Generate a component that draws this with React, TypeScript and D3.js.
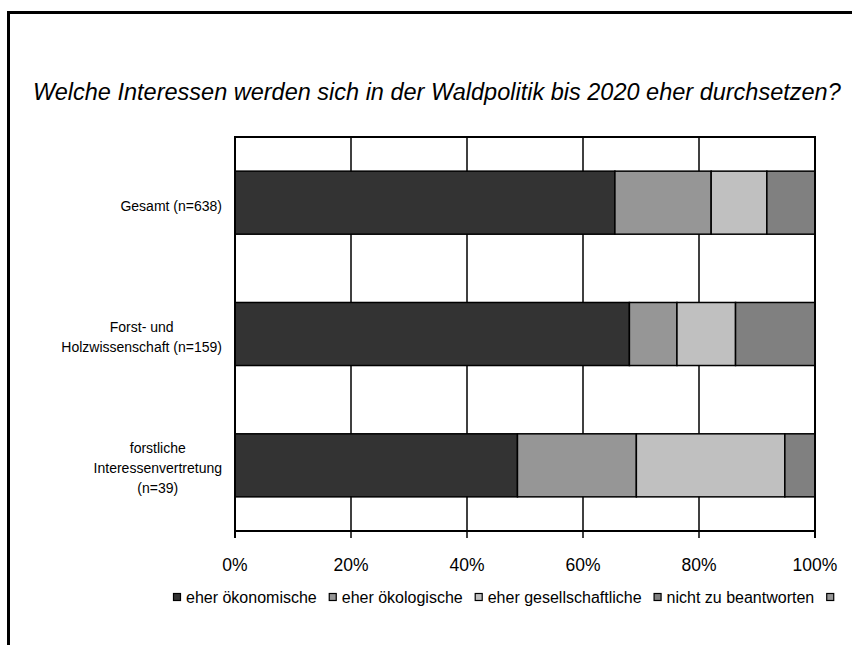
import React from "react";
import * as d3 from "d3";

const categories = [
  ["Gesamt (n=638)"],
  ["Forst- und", "Holzwissenschaft (n=159)"],
  ["forstliche", "Interessenvertretung", "(n=39)"],
];
const seriesNames = ["eher ökonomische", "eher ökologische", "eher gesellschaftliche", "nicht zu beantworten", ""];
const seriesColors = ["#333333", "#969696", "#C0C0C0", "#808080", "#969696"];
const oekonomisch = [65.5, 68.0, 48.7];
const oekologisch = [16.6, 8.2, 20.5];
const gesellschaftlich = [9.6, 10.1, 25.6];
const nichtBeantworten = [8.3, 13.7, 5.2];
const tickValues = [0, 20, 40, 60, 80, 100];
const title = "Welche Interessen werden sich in der Waldpolitik bis 2020 eher durchsetzen?";

const FONT = "'Liberation Sans', Arial, sans-serif";
let ctx: CanvasRenderingContext2D | null = null;
function measure(text: string, size: number) {
  if (!ctx) ctx = document.createElement("canvas").getContext("2d");
  if (!ctx) return text.length * size * 0.5;
  ctx.font = `${size}px ${FONT}`;
  return ctx.measureText(text).width;
}

export default function App() {
  const W = 852, H = 645;
  const left = 235, right = 815, top = 137, bottom = 531;
  const x = d3.scaleLinear().domain([0, 100]).range([left, right]);
  const y = d3.scaleBand<number>().domain([0, 1, 2]).range([top, bottom]).paddingInner(0.52).paddingOuter(0.26);
  const series = [oekonomisch, oekologisch, gesellschaftlich, nichtBeantworten];
  const rows = categories.map((_, i) => {
    const o: any = { i };
    series.forEach((s, k) => (o["s" + k] = s[i]));
    return o;
  });
  const stack = d3.stack<any>().keys(series.map((_, k) => "s" + k))(rows);

  const labelSize = 14;
  const legendSize = 16;
  let lx = 173;
  const legendPos = seriesNames.map((n) => {
    const p = lx;
    lx += 7 + (n ? 6 + measure(n, legendSize) + 12 : 0);
    return p;
  });

  return (
    <svg width={W} height={H} style={{ position: "absolute", left: 0, top: 0, display: "block" }} fontFamily={FONT}>
      <rect width={W} height={H} fill="#fff" />
      <path d={`M8.5,${H} V12.5 H${W}`} fill="none" stroke="#000" strokeWidth={3} />
      <text x={33} y={100} fontSize={23.5} fontStyle="italic" fill="#000">{title}</text>
      <rect x={left} y={top} width={right - left} height={bottom - top} fill="#fff" stroke="#000" strokeWidth={2} />
      {tickValues.slice(1, -1).map((t) => (
        <line key={t} x1={x(t)} x2={x(t)} y1={top} y2={bottom} stroke="#000" strokeWidth={1.5} />
      ))}
      {stack.map((layer, k) =>
        layer.map((d, i) => (
          <rect key={k + "-" + i} x={x(d[0])} y={y(i)!} width={x(d[1]) - x(d[0])} height={y.bandwidth()}
            fill={seriesColors[k]} stroke="#000" strokeWidth={1.5} />
        ))
      )}
      <line x1={left} x2={left} y1={top} y2={bottom + 7} stroke="#000" strokeWidth={2} />
      <line x1={right} x2={right} y1={top} y2={bottom + 7} stroke="#000" strokeWidth={2} />
      <line x1={left} x2={right} y1={bottom} y2={bottom} stroke="#000" strokeWidth={2} />
      {tickValues.map((t) => (
        <g key={t}>
          <line x1={x(t)} x2={x(t)} y1={bottom} y2={bottom + 7} stroke="#000" strokeWidth={1.5} />
          <text x={x(t)} y={571} textAnchor="middle" fontSize={17.5}>{t + "%"}</text>
        </g>
      ))}
      {categories.map((lines, i) => {
        const cy = y(i)! + y.bandwidth() / 2 + 3;
        const lh = 20;
        const maxW = Math.max(...lines.map((l) => measure(l, labelSize)));
        const cx = 222 - maxW / 2;
        return (
          <g key={i}>
            {lines.map((l, j) => (
              <text key={j} x={cx} y={cy + (j - (lines.length - 1) / 2) * lh + 5} textAnchor="middle" fontSize={labelSize}>{l}</text>
            ))}
          </g>
        );
      })}
      {seriesNames.map((n, k) => (
        <g key={k}>
          <rect x={legendPos[k] + 0.5} y={593.5} width={7} height={7} fill={seriesColors[k]} stroke="#000" strokeWidth={1.2} />
          {n && <text x={legendPos[k] + 13} y={603} fontSize={legendSize}>{n}</text>}
        </g>
      ))}
    </svg>
  );
}
